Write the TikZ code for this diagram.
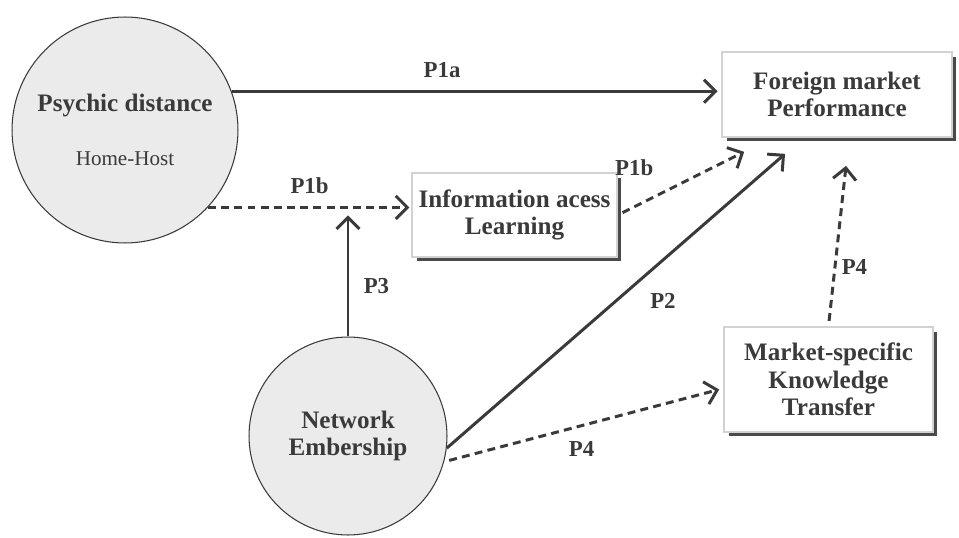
\documentclass[tikz,border=0pt]{standalone}
\usepackage{xcolor}
\usepackage{fontspec}
\setmainfont{Liberation Serif}
\usetikzlibrary{shapes.geometric, arrows.meta, positioning, shadows}
\definecolor{inkgray}{HTML}{3A3A3A}
\definecolor{circlefill}{HTML}{EBEBEB}
\definecolor{boxline}{HTML}{D2D2D2}
\definecolor{shadowgray}{HTML}{4A4A4A}
\tikzstyle{arrow} = [line width=1.7pt, draw=inkgray, -{Straight Barb[length=2.3mm, width=4.6mm]}]
\tikzstyle{dasharrow} = [arrow, dash pattern=on 4.5pt off 3pt]
\tikzstyle{construct} = [circle, draw=inkgray, line width=0.6pt, fill=circlefill, text=inkgray, align=center, inner sep=0pt]
\tikzstyle{outcome} = [rectangle, draw=boxline, line width=1pt, fill=white, text=inkgray, align=center, font=\bfseries\fontsize{14.3}{15.5}\selectfont, drop shadow={shadow xshift=0.09cm, shadow yshift=-0.09cm, fill=shadowgray, opacity=1}]
\tikzstyle{plabel} = [text=inkgray, font=\bfseries\fontsize{13}{15}\selectfont, inner sep=1pt]

\begin{document}
\begin{tikzpicture}[x=0.02cm, y=-0.02cm]
    \useasboundingbox (0,0) rectangle (959,537);

    % Constructs
    \node[construct, minimum size=4.52cm] (psy) at (125,130) {{\bfseries\fontsize{14.3}{16}\selectfont Psychic distance}\\[19pt]{\fontsize{12}{14}\selectfont Home-Host}};
    \node[construct, minimum size=3.96cm, font=\bfseries\fontsize{14.3}{15.5}\selectfont] (net) at (348,436) {Network\\Embership};

    % Outcomes
    \node[outcome, minimum width=4.6cm, minimum height=1.7cm] (fm) at (837,94.5) {Foreign market\\Performance};
    \node[outcome, minimum width=4.1cm, minimum height=1.68cm] (info) at (514.5,215) {Information acess\\Learning};
    \node[outcome, minimum width=4.18cm, minimum height=2.1cm] (mst) at (828.5,379.5) {Market-specific\\Knowledge\\Transfer};

    % Propositions
    \draw[arrow, shorten >=2pt] (psy.20) -- (psy.20 -| fm.west) node[plabel, pos=0.43, above=0.2cm] {P1a};
    \draw[dasharrow, shorten >=1pt] (psy.-43) -- (psy.-43 -| info.west) node[plabel, midway, above=0.2cm] {P1b};
    \draw[arrow, shorten >=4.5pt] (net.north) -- (net.north |- psy.-43) node[plabel, pos=0.39, right=0.25cm] {P3};
    \draw[dasharrow, shorten <=3pt] (info.east) -- ([shift={(23,14)}]fm.south west) node[plabel, pos=0.13, above=0.56cm] {P1b};
    \draw[arrow] (net.-7) -- ([shift={(-52,16)}]fm.south) node[plabel, pos=0.58, shift={(20,23)}] {P2};
    \draw[dasharrow, shorten <=3pt] (mst.north) -- ([shift={(9,28)}]fm.south) node[plabel, pos=0.37, right=2pt] {P4};
    \draw[dasharrow, shorten <=3pt] (net.-15) -- ([shift={(-4,10)}]mst.west) node[plabel, pos=0.5, below=0.25cm] {P4};

\end{tikzpicture}
\end{document}
